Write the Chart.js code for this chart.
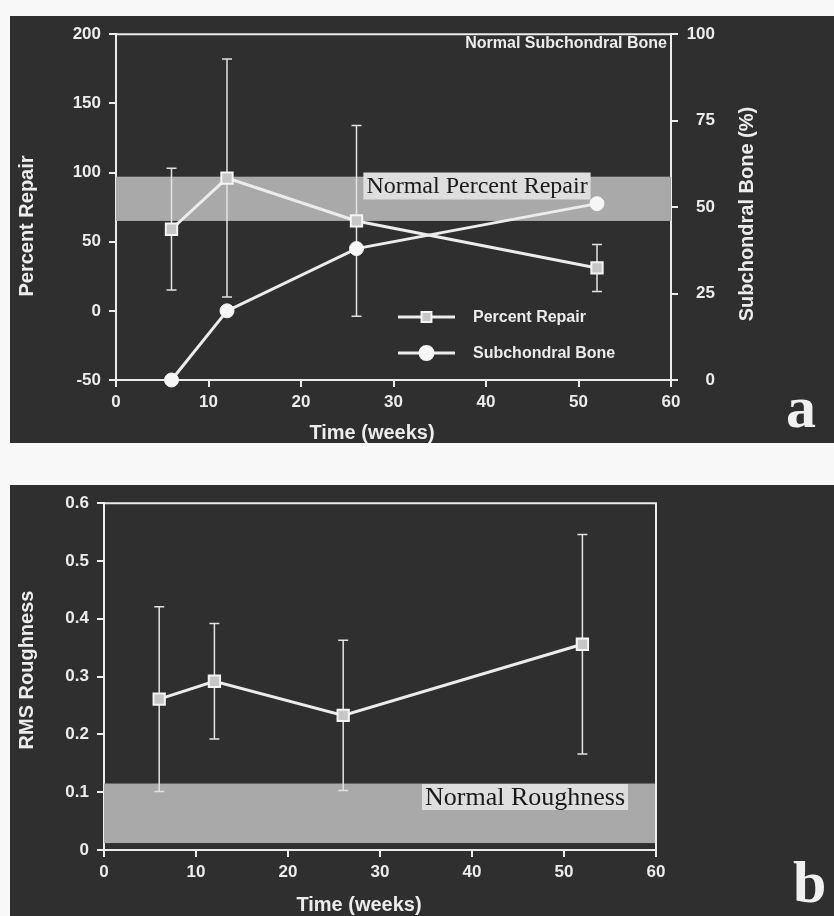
<!DOCTYPE html>
<html>
<head>
<meta charset="utf-8">
<script src="https://cdn.jsdelivr.net/npm/chart.js@4.4.1/dist/chart.umd.min.js"></script>
<style>
  body { margin: 0; background: #f8f8f8; width: 834px; height: 916px; position: relative; overflow: hidden; }
  .panel { position: absolute; left: 10px; width: 824px; background: #2f2f2f; }
  #panelA { top: 16px; height: 427px; }
  #panelB { top: 485px; height: 431px; }
  .panel canvas { position: absolute; left: 0; top: 0; }
  .tag { position: absolute; font-family: "Liberation Serif", serif; font-weight: bold; font-size: 60px; line-height: 1; color: #f0f0f0; }
</style>
</head>
<body>
<div class="panel" id="panelA"><canvas id="chartA" width="824" height="427"></canvas></div>
<div class="panel" id="panelB"><canvas id="chartB" width="824" height="431"></canvas></div>
<div class="tag" style="left:786px; top:377px;">a</div>
<div class="tag" style="left:793px; top:852px;">b</div>
<script>
// data
const weeks = [6, 12, 26, 52];
const percentRepair = [59, 96, 65, 31];
const percentRepairSD = [44, 86, 69, 17];
const subchondralBone = [0, 20, 38, 51];
const normalRepairBand = [65, 97];

const roughness = [0.261, 0.292, 0.233, 0.356];
const roughnessSD = [0.16, 0.10, 0.13, 0.19];
const normalRoughnessBand = [0.012, 0.115];

const timeTicks = [0, 10, 20, 30, 40, 50, 60];
const repairTicks = [-50, 0, 50, 100, 150, 200];
const boneTicks = [0, 25, 50, 75, 100];
const roughnessTicks = [0, 0.1, 0.2, 0.3, 0.4, 0.5, 0.6];

const WHITE = '#ececec';
const SANS = '"Liberation Sans", Arial, sans-serif';
const SERIF = '"Liberation Serif", "Times New Roman", serif';

Chart.defaults.font.family = SANS;
Chart.defaults.color = WHITE;

function points(ys) {
    return weeks.map((w, i) => ({x: w, y: ys[i]}));
}

// band, error bars, frame, legend and free texts
const decor = {
    id: 'decor',
    beforeDatasetsDraw(chart, args, o) {
        const {ctx, chartArea: area, scales} = chart;
        const bs = scales[o.band.axis];
        const top = bs.getPixelForValue(o.band.range[1]);
        const bottom = bs.getPixelForValue(o.band.range[0]);
        ctx.save();
        ctx.fillStyle = '#a9a9a9';
        ctx.fillRect(area.left, top, area.right - area.left, bottom - top);

        ctx.font = o.band.font;
        const w = ctx.measureText(o.band.label).width;
        ctx.fillStyle = '#dedede';
        ctx.fillRect(o.band.x - w / 2 - 3, o.band.y - o.band.h / 2, w + 6, o.band.h);
        ctx.fillStyle = '#1a1a1a';
        ctx.textAlign = 'center';
        ctx.textBaseline = 'middle';
        ctx.fillText(o.band.label, o.band.x, o.band.y + 1);

        const e = o.errors;
        const es = scales[e.axis];
        ctx.strokeStyle = '#e2e2e2';
        ctx.lineWidth = 1.5;
        weeks.forEach((wk, i) => {
            const px = scales.x.getPixelForValue(wk);
            const hi = es.getPixelForValue(e.mean[i] + e.sd[i]);
            const lo = es.getPixelForValue(e.mean[i] - e.sd[i]);
            ctx.beginPath();
            ctx.moveTo(px, hi); ctx.lineTo(px, lo);
            ctx.moveTo(px - 5, hi); ctx.lineTo(px + 5, hi);
            ctx.moveTo(px - 5, lo); ctx.lineTo(px + 5, lo);
            ctx.stroke();
        });
        ctx.restore();
    },
    afterDraw(chart, args, o) {
        const {ctx, chartArea: area} = chart;
        ctx.save();
        ctx.strokeStyle = WHITE;
        ctx.lineWidth = 2;
        ctx.beginPath();
        ctx.moveTo(area.left, area.top);
        ctx.lineTo(area.right, area.top);
        if (o.rightLine) {
            ctx.lineTo(area.right, area.bottom);
        }
        ctx.stroke();

        (o.legend || []).forEach(item => {
            ctx.strokeStyle = WHITE;
            ctx.lineWidth = 3;
            ctx.beginPath();
            ctx.moveTo(item.x1, item.y);
            ctx.lineTo(item.x2, item.y);
            ctx.stroke();
            ctx.fillStyle = item.fill;
            ctx.strokeStyle = '#f4f4f4';
            ctx.lineWidth = 2;
            Chart.helpers.drawPoint(ctx, {pointStyle: item.style, radius: item.radius, borderWidth: 2, rotation: 0},
                (item.x1 + item.x2) / 2, item.y);
            ctx.fillStyle = WHITE;
            ctx.font = 'bold 16px ' + SANS;
            ctx.textAlign = 'left';
            ctx.textBaseline = 'middle';
            ctx.fillText(item.text, item.x2 + 18, item.y + 1);
        });

        o.texts.forEach(t => {
            ctx.save();
            ctx.translate(t.x, t.y);
            if (t.vertical) ctx.rotate(-Math.PI / 2);
            ctx.font = t.font;
            ctx.fillStyle = WHITE;
            ctx.textAlign = t.align || 'center';
            ctx.textBaseline = 'middle';
            ctx.fillText(t.text, 0, 0);
            ctx.restore();
        });
        ctx.restore();
    }
};

function axisStyle(extra) {
    return Object.assign({
        grid: {display: true, drawOnChartArea: false, drawTicks: true, tickLength: 7, color: WHITE, lineWidth: 2},
        border: {display: true, color: WHITE, width: 2},
    }, extra);
}

function tickFont() {
    return {size: 17, weight: 'bold'};
}

const TITLE = 'bold 20px ' + SANS;

new Chart(document.getElementById('chartA'), {
    type: 'line',
    data: {
        datasets: [
            {
                label: 'Percent Repair',
                data: points(percentRepair),
                yAxisID: 'y',
                borderColor: WHITE,
                borderWidth: 3,
                pointStyle: 'rect',
                pointRadius: 8,
                pointBackgroundColor: '#c6c6c6',
                pointBorderColor: '#f4f4f4',
                pointBorderWidth: 2,
                clip: false
            },
            {
                label: 'Subchondral Bone',
                data: points(subchondralBone),
                yAxisID: 'y1',
                borderColor: WHITE,
                borderWidth: 3,
                pointStyle: 'circle',
                pointRadius: 7,
                pointBackgroundColor: '#f6f6f6',
                pointBorderColor: '#f6f6f6',
                pointBorderWidth: 1,
                clip: false
            }
        ]
    },
    options: {
        responsive: false,
        animation: false,
        layout: {padding: {left: 0, right: 119, top: 13, bottom: 0}},
        plugins: {
            legend: {display: false},
            tooltip: {enabled: false},
            decor: {
                band: {axis: 'y', range: normalRepairBand, label: 'Normal Percent Repair',
                    font: '24px ' + SERIF, x: 467, y: 170, h: 27},
                errors: {axis: 'y', mean: percentRepair, sd: percentRepairSD},
                rightLine: false,
                legend: [
                    {x1: 388, x2: 445, y: 301, style: 'rect', radius: 7, fill: '#c6c6c6', text: 'Percent Repair'},
                    {x1: 388, x2: 445, y: 337, style: 'circle', radius: 7, fill: '#f6f6f6', text: 'Subchondral Bone'}
                ],
                texts: [
                    {text: 'Percent Repair', x: 17, y: 210, vertical: true, font: TITLE},
                    {text: 'Subchondral Bone (%)', x: 737, y: 198, vertical: true, font: TITLE},
                    {text: 'Time (weeks)', x: 362, y: 417, font: TITLE},
                    {text: 'Normal Subchondral Bone', x: 657, y: 28, align: 'right', font: 'bold 16px ' + SANS}
                ]
            }
        },
        scales: {
            x: axisStyle({
                type: 'linear', position: 'bottom',
                min: timeTicks[0], max: timeTicks[timeTicks.length - 1],
                afterFit: s => { s.height = 63; },
                ticks: {stepSize: 10, color: WHITE, font: tickFont(), padding: 5, maxRotation: 0}
            }),
            y: axisStyle({
                type: 'linear', position: 'left',
                min: repairTicks[0], max: repairTicks[repairTicks.length - 1],
                afterFit: s => { s.width = 106; },
                ticks: {stepSize: 50, color: WHITE, font: tickFont(), padding: 8}
            }),
            y1: axisStyle({
                type: 'linear', position: 'right',
                min: boneTicks[0], max: boneTicks[boneTicks.length - 1],
                afterFit: s => { s.width = 44; },
                ticks: {stepSize: 25, color: WHITE, font: tickFont(), padding: 8, crossAlign: 'far'}
            })
        }
    },
    plugins: [decor]
});

new Chart(document.getElementById('chartB'), {
    type: 'line',
    data: {
        datasets: [
            {
                label: 'RMS Roughness',
                data: points(roughness),
                borderColor: WHITE,
                borderWidth: 3,
                pointStyle: 'rect',
                pointRadius: 8,
                pointBackgroundColor: '#c6c6c6',
                pointBorderColor: '#f4f4f4',
                pointBorderWidth: 2,
                clip: false
            }
        ]
    },
    options: {
        responsive: false,
        animation: false,
        layout: {padding: {left: 0, right: 178, top: 9, bottom: 0}},
        plugins: {
            legend: {display: false},
            tooltip: {enabled: false},
            decor: {
                band: {axis: 'y', range: normalRoughnessBand, label: 'Normal Roughness',
                    font: '26px ' + SERIF, x: 515, y: 312, h: 26},
                errors: {axis: 'y', mean: roughness, sd: roughnessSD},
                rightLine: true,
                texts: [
                    {text: 'RMS Roughness', x: 17, y: 185, vertical: true, font: TITLE},
                    {text: 'Time (weeks)', x: 349, y: 420, font: TITLE}
                ]
            }
        },
        scales: {
            x: axisStyle({
                type: 'linear', position: 'bottom',
                min: timeTicks[0], max: timeTicks[timeTicks.length - 1],
                afterFit: s => { s.height = 66; },
                ticks: {stepSize: 10, color: WHITE, font: tickFont(), padding: 5, maxRotation: 0}
            }),
            y: axisStyle({
                type: 'linear', position: 'left',
                min: roughnessTicks[0], max: roughnessTicks[roughnessTicks.length - 1],
                afterFit: s => { s.width = 94; },
                ticks: {stepSize: 0.1, color: WHITE, font: tickFont(), padding: 8,
                    callback: v => String(+v.toFixed(1))}
            })
        }
    },
    plugins: [decor]
});
</script>
</body>
</html>
